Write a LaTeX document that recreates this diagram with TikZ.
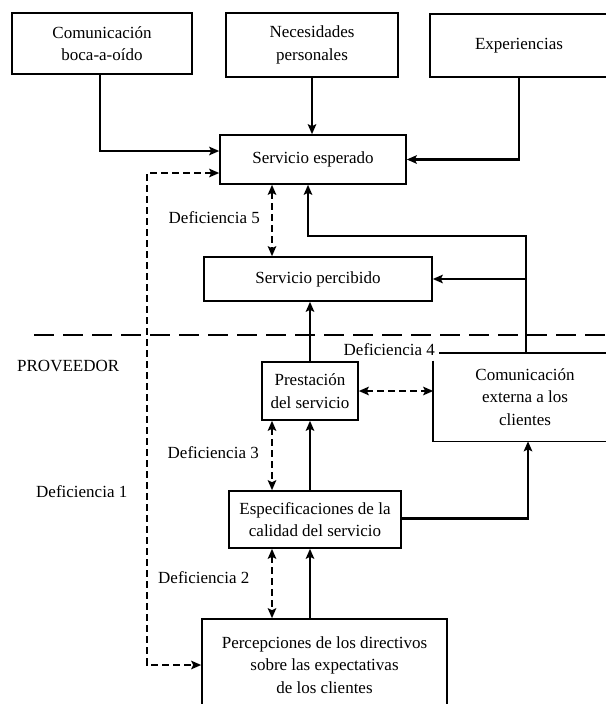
\documentclass[tikz,border=0pt]{standalone}
\usepackage{fontspec}
\setmainfont{Liberation Serif}
\usetikzlibrary{arrows.meta,calc}
\begin{document}
\begin{tikzpicture}[x=1pt,y=-1pt,
  box/.style={draw, line width=1.6pt, align=center, inner sep=0pt, font=\fontsize{17}{22.5}\selectfont},
  openbox/.style={box, draw=none},
  boxline/.style={line width=1.6pt},
  tipx/.tip={Stealth[length=10pt,width=8.5pt,inset=2pt]},
  arr/.style={line width=2.9pt, -tipx},
  darr/.style={line width=2.5pt, dash pattern=on 7pt off 4pt, tipx-tipx},
  sepline/.style={line width=2.4pt, dash pattern=on 20pt off 9pt},
  lbl/.style={font=\fontsize{17}{20}\selectfont, inner sep=0pt}]
\fill[white] (0,0) rectangle (605,704);
\useasboundingbox (0,0) rectangle (605,704);

% boxes
\node[box, minimum width=180pt, minimum height=61pt] (boca) at (102,43.5) {Comunicación\\boca-a-oído};
\node[box, minimum width=172pt, minimum height=64pt] (nec) at (312,45) {Necesidades\\personales};
\node[box, minimum width=178pt, minimum height=63pt] (exp) at (519,45.5) {Experiencias};
\node[box, minimum width=186pt, minimum height=49pt] (esp) at (313,159.5) {Servicio esperado};
\node[box, minimum width=228pt, minimum height=44pt] (perc) at (318,279) {Servicio percibido};
\node[box, minimum width=96pt, minimum height=58pt] (prest) at (310,391) {Prestación\\del servicio};
\node[openbox, minimum width=182pt, minimum height=87pt] (ext) at (525,397) {Comunicación\\externa a los\\clientes};
\node[box, minimum width=172pt, minimum height=57pt] (espec) at (315,519.5) {Especificaciones de la\\calidad del servicio};
\node[box, minimum width=245pt, minimum height=92pt] (percd) at (324.5,665) {Percepciones de los directivos\\sobre las expectativas\\de los clientes};

% outline of the external communication box (open top-left corner)
\draw[boxline] ([xshift=6pt]ext.north west) -- (ext.north east);
\draw[boxline] ([yshift=-8pt]ext.north west) -- (ext.south west) -- (ext.south east);

% labels
\node[lbl, anchor=east] (d5) at (260,218) {Deficiencia 5};
\node[lbl, anchor=base east] (d4) at (435,355) {Deficiencia 4};
\node[lbl, anchor=east] (d3) at (259,453) {Deficiencia 3};
\node[lbl, anchor=west] (d2) at (158,578) {Deficiencia 2};
\node[lbl, anchor=west] (d1) at (36,492) {Deficiencia 1};
\node[lbl, anchor=west] (prov) at (17,366) {PROVEEDOR};

% helper coordinates
\coordinate (sepL) at (34,335);
\coordinate (sepR) at (607,335);
\coordinate (c1) at (147,400);
\coordinate (g) at (272,0);
\coordinate (bend) at (308,236);
\coordinate (tap) at (526,0);
\coordinate (up) at (528,0);
\coordinate (bocaout) at ([xshift=-2pt]boca.south);

% provider separation line
\draw[sepline] (sepL) -- (sepR);

% connectors
\draw[arr] (bocaout) |- ([yshift=8.5pt]esp.west);
\draw[arr] (nec.south) -- (nec.south |- esp.north);
\draw[arr] (exp.south) |- (esp.east);
\draw[darr] ([yshift=-13.5pt]esp.west) -| (c1) |- (percd.west);
\draw[darr] (esp.south -| g) -- (perc.north -| g);
\draw[arr] (tap |- ext.north) |- (bend) -- (bend |- esp.south);
\draw[arr] (tap |- perc.east) -- (perc.east);
\draw[arr] (prest.north) -- (prest.north |- perc.south);
\draw[darr] (prest.east) -- (prest.east -| ext.west);
\draw[darr] (prest.south -| g) -- (espec.north -| g);
\draw[arr] (espec.north -| prest.north) -- (prest.south);
\draw[arr] ([yshift=1pt]espec.east) -| (up |- ext.south);
\draw[darr] (espec.south -| g) -- (percd.north -| g);
\draw[arr] (percd.north -| prest.north) -- (espec.south -| prest.north);
\end{tikzpicture}
\end{document}
